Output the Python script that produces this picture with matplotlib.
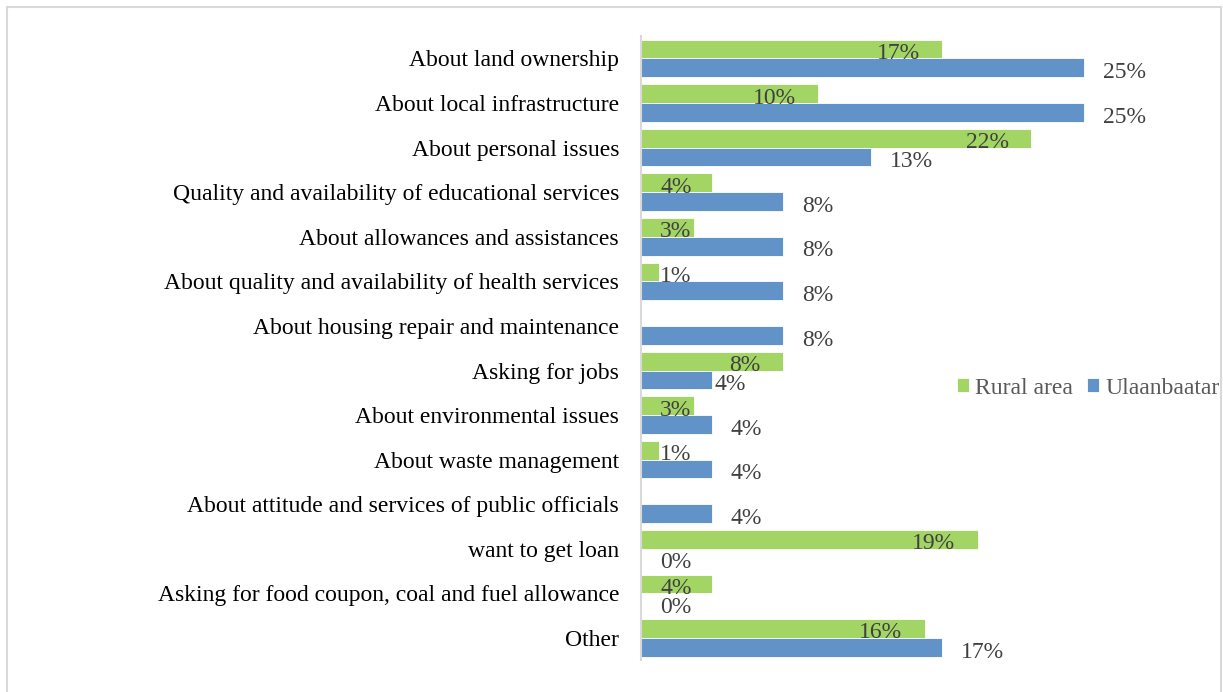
import numpy as np
import matplotlib
matplotlib.use('Agg')
import matplotlib.pyplot as plt
from matplotlib.patches import Rectangle

categories = [
    'About land ownership',
    'About local infrastructure',
    'About personal issues',
    'Quality and availability of educational services',
    'About allowances and assistances',
    'About quality and availability of health services',
    'About housing repair and maintenance',
    'Asking for jobs',
    'About environmental issues',
    'About waste management',
    'About attitude and services of public officials',
    'want to get loan',
    'Asking for food coupon, coal and fuel allowance',
    'Other',
]
# None = no answer recorded for that group
rural = [17, 10, 22, 4, 3, 1, None, 8, 3, 1, None, 19, 4, 16]
ulaanbaatar = [25, 25, 13, 8, 8, 8, 8, 4, 4, 4, 4, 0, 0, 17]

GREEN = '#a2d563'
BLUE = '#6193c8'
LABEL_COLOR = '#404040'
FS = 17

plt.rcParams['font.family'] = ['Liberation Serif', 'DejaVu Serif']

fig = plt.figure(figsize=(12.23, 6.92), dpi=100)
ax = fig.add_axes([641 / 1223, 0.0458, (1100 - 641) / 1223, 0.9477 - 0.0458])

y = np.arange(len(categories))
h = 0.42
rural_vals = np.array([np.nan if v is None else v for v in rural], dtype=float)
ub_vals = np.array(ulaanbaatar, dtype=float)

ax.barh(y - h / 2, rural_vals, height=h, color=GREEN, edgecolor='white', linewidth=0.6, label='Rural area')
ax.barh(y + h / 2, ub_vals, height=h, color=BLUE, edgecolor='white', linewidth=0.6, label='Ulaanbaatar')

px = 1 / 17.72  # one pixel in percent units
xmax = (1100 - 641) * px
ax.set_xlim(0, xmax)
ax.set_ylim(len(categories) - 0.5, -0.5)

em = FS * 100 / 72 * px  # font size in percent units


def label_width(v):
    return len(str(int(v))) * 0.5 * em + 0.833 * em


# rural labels sit inside the bar end, pushed right when the bar is short
for i, v in enumerate(rural_vals):
    if np.isnan(v):
        continue
    left = max(v - 22 * px - label_width(v), 19 * px)
    ax.text(left, i + 0.01, f'{int(v)}%', ha='left', va='baseline', fontsize=FS, color=LABEL_COLOR)

# Ulaanbaatar labels go just past the bar end
for i, v in enumerate(ub_vals):
    gap = 3 * px if categories[i] == 'Asking for jobs' else 19 * px
    ax.text(v + gap, i + h + 0.02, f'{int(v)}%', ha='left', va='baseline', fontsize=FS, color=LABEL_COLOR)

ax.set_yticks(y)
ax.set_yticklabels(categories, fontsize=FS, color='black')
ax.tick_params(axis='y', length=0, pad=15.8)
ax.set_xticks([])
for side in ['top', 'right', 'bottom']:
    ax.spines[side].set_visible(False)
ax.spines['left'].set_color('#d9d9d9')
ax.spines['left'].set_linewidth(1.5)
ax.patch.set_alpha(0)

fig.legend(loc='center left', bbox_to_anchor=(957 / 1223, 1 - 388 / 692), ncol=2, frameon=False,
           fontsize=FS, labelcolor='#595959', handlelength=0.5, handleheight=0.5,
           handletextpad=0.28, columnspacing=0.6, borderaxespad=0, borderpad=0)

fig.patches.append(Rectangle((7 / 1223, -0.05), 1214 / 1223, (692 - 7) / 692 + 0.05,
                             transform=fig.transFigure, fill=False, edgecolor='#d9d9d9', linewidth=1.5))

fig.savefig('out.png', dpi=100)
